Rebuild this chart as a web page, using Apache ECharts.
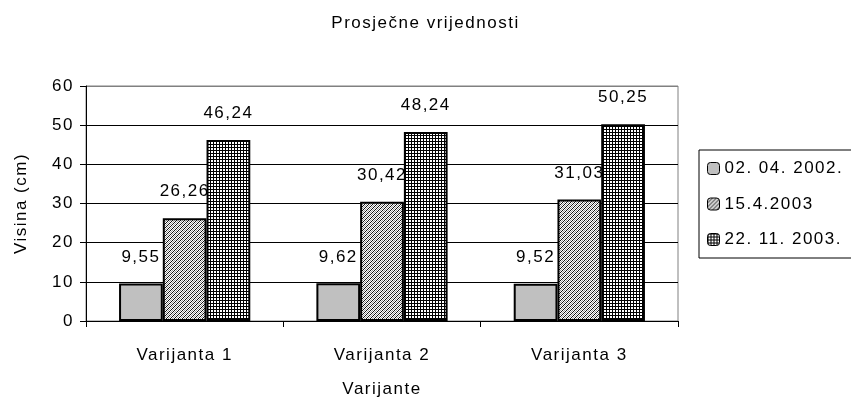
<!DOCTYPE html>
<html>
<head>
<meta charset="utf-8">
<script src="https://cdn.jsdelivr.net/npm/echarts@6/dist/echarts.min.js"></script>
<style>
  html, body { margin: 0; padding: 0; background: #fff; }
  #chart { width: 851px; height: 405px; }
</style>
</head>
<body>
<div id="chart"></div>
<script>
const categories = ['Varijanta 1', 'Varijanta 2', 'Varijanta 3']
const seriesNames = ['02. 04. 2002.', '15.4.2003', '22. 11. 2003.']
const values0402 = [9.55, 9.62, 9.52]
const values1504 = [26.26, 30.42, 31.03]
const values2211 = [46.24, 48.24, 50.25]

const FONT = 'Liberation Sans, Arial, sans-serif'

// small canvas tiles used as bar fill patterns
function tile (size, draw) {
  const c = document.createElement('canvas')
  c.width = size
  c.height = size
  const ctx = c.getContext('2d')
  ctx.fillStyle = '#fff'
  ctx.fillRect(0, 0, size, size)
  draw(ctx)
  return c
}
const hatch = tile(4, ctx => {
  for (let x = 0; x < 4; x++) {
    for (let y = 0; y < 4; y++) {
      const k = (x + y) % 4
      if (k === 0) { ctx.fillStyle = '#111'; ctx.fillRect(x, y, 1, 1) }
      if (k === 2) { ctx.fillStyle = '#999'; ctx.fillRect(x, y, 1, 1) }
    }
  }
})
const grid = tile(3, ctx => {
  ctx.fillStyle = '#000'
  ctx.fillRect(0, 0, 3, 1)
  ctx.fillRect(0, 0, 1, 3)
})

const fills = ['#c0c0c0', { image: hatch, repeat: 'repeat' }, { image: grid, repeat: 'repeat' }]
const data = [values0402, values1504, values2211]

const option = {
  animation: false,
  textStyle: { fontFamily: FONT, color: '#000' },
  title: {
    text: 'Prosječne vrijednosti',
    left: 'center',
    top: 10,
    textStyle: { fontFamily: FONT, fontSize: 17, fontWeight: 'normal', color: '#000' }
  },
  legend: {
    orient: 'vertical',
    left: 699,
    top: 150,
    padding: [10, 40, 10, 8],
    itemGap: 18.5,
    itemWidth: 12,
    itemHeight: 12,
    borderColor: '#000',
    borderWidth: 1,
    borderRadius: 0,
    itemStyle: { borderColor: '#000', borderWidth: 1 },
    textStyle: { fontFamily: FONT, fontSize: 17, color: '#000' },
    data: seriesNames
  },
  grid: {
    left: 86,
    right: 173,
    top: 86,
    bottom: 84,
    show: true,
    borderColor: '#808080',
    borderWidth: 1
  },
  xAxis: {
    type: 'category',
    data: categories,
    name: 'Varijante',
    nameLocation: 'middle',
    nameGap: 60,
    nameTextStyle: { fontFamily: FONT, fontSize: 17, color: '#000' },
    axisLine: { lineStyle: { color: '#000', width: 1 } },
    axisTick: { show: true, length: 6, lineStyle: { color: '#000' } },
    axisLabel: { fontFamily: FONT, fontSize: 17, color: '#000', margin: 26 }
  },
  yAxis: {
    type: 'value',
    min: 0,
    max: 60,
    interval: 10,
    name: 'Visina (cm)',
    nameLocation: 'middle',
    nameGap: 56,
    nameTextStyle: { fontFamily: FONT, fontSize: 17, color: '#000' },
    axisLine: { show: true, lineStyle: { color: '#000', width: 1 } },
    axisTick: { show: true, length: 6, lineStyle: { color: '#000' } },
    axisLabel: { fontFamily: FONT, fontSize: 17, color: '#000', margin: 12 },
    splitLine: {
      show: true,
      lineStyle: { color: ['#000', '#000', '#000', '#000', '#000', '#000', '#808080'], width: 1 }
    }
  },
  series: seriesNames.map((name, i) => ({
    name: name,
    type: 'bar',
    data: data[i],
    barGap: 0,
    barCategoryGap: '33.5%',
    itemStyle: { color: fills[i], borderColor: '#000', borderWidth: 2 },
    label: {
      show: true,
      position: 'top',
      distance: 18,
      fontFamily: FONT,
      fontSize: 17,
      color: '#000',
      formatter: p => p.value.toFixed(2).replace('.', ',')
    }
  }))
}

const dom = document.getElementById('chart')
const chart = echarts.init(dom)
chart.setOption(option)
chart.getZr().refreshImmediately()
// the original chart text is a bit spread out
const cv = dom.querySelector('canvas')
if (cv) {
  cv.getContext('2d').letterSpacing = '1.5px'
  chart.setOption(option, true)
  chart.getZr().refreshImmediately()
}
</script>
</body>
</html>
